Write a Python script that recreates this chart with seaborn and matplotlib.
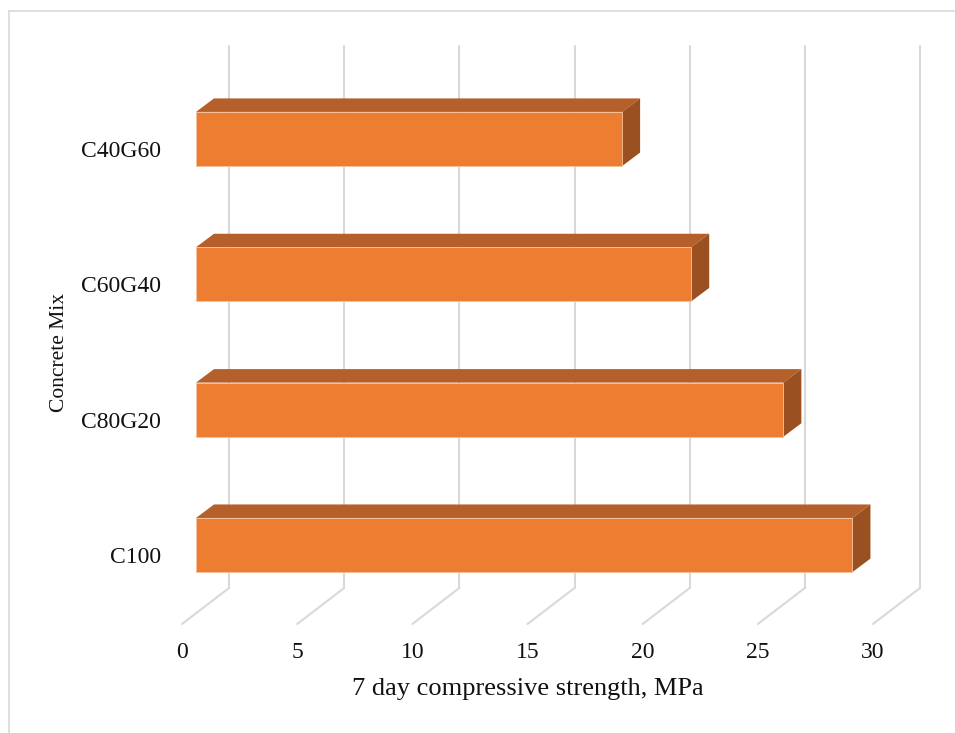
import matplotlib
matplotlib.use("Agg")
import matplotlib.pyplot as plt
from matplotlib.lines import Line2D
from matplotlib.patches import Polygon
import seaborn as sns
import pandas as pd

# Compressive strength after 7 days for each concrete mix
mixes = ["C40G60", "C60G40", "C80G20", "C100"]
strength = [18.5, 21.5, 25.5, 28.5]
x_ticks = [0, 5, 10, 15, 20, 25, 30]

x_title = "7 day compressive strength, MPa"
y_title = "Concrete Mix"

FRONT = "#ED7D31"
TOP = "#B5602A"
SIDE = "#9A5020"
GRID = "#D9D9D9"

sns.set_style("white")
plt.rcParams["font.family"] = ["Liberation Serif", "DejaVu Serif"]

df = pd.DataFrame({"mix": mixes, "strength": strength})

fig = plt.figure(figsize=(9.55, 7.33), dpi=100)
ax = fig.add_axes([196 / 955, (733 - 612.7) / 733, 691 / 955, 541.4 / 733])

sns.barplot(data=df, x="strength", y="mix", order=mixes, orient="h",
            width=0.4, color=FRONT, saturation=1, edgecolor="#F6C09A",
            linewidth=0.6, ax=ax, zorder=3)

ax.set_xlim(0, 30)
ax.set_ylim(3.5, -0.5)
for s in ax.spines.values():
    s.set_visible(False)
ax.set_xticks([])
ax.set_yticks([])
ax.set_xlabel("")
ax.set_ylabel("")


def shifted(x, y, dx_px, dy_px):
    """Data point moved by a pixel offset (dy positive = upwards)."""
    px, py = ax.transData.transform((x, y))
    return tuple(ax.transData.inverted().transform((px + dx_px, py + dy_px)))


# depth of the 3-D box behind the bar plane
BACK_DX, BACK_DY_FLOOR, BACK_DY_TOP = 33, 24.7, 25.3
FRONT_DX, FRONT_DY = -14, -11.3
y_floor, y_roof = 3.5, -0.5

# back wall gridlines and floor diagonals
for v in x_ticks:
    b0 = shifted(v, y_floor, BACK_DX, BACK_DY_FLOOR)
    b1 = shifted(v, y_roof, BACK_DX, BACK_DY_TOP)
    f0 = shifted(v, y_floor, FRONT_DX, FRONT_DY)
    ax.add_line(Line2D([b0[0], b1[0]], [b0[1], b1[1]], color=GRID, lw=1.5,
                       clip_on=False, zorder=1))
    ax.add_line(Line2D([b0[0], f0[0]], [b0[1], f0[1]], color=GRID, lw=1.5,
                       clip_on=False, zorder=1))
    lx, ly = shifted(v, y_floor, FRONT_DX, -45.3)
    ax.text(lx, ly, str(v), ha="center", va="baseline", fontsize=17,
            color="#111111", clip_on=False)

# top and side faces of each bar
DX, DY = 18, 13.5
for p in ax.patches:
    x0, y0 = p.get_x(), p.get_y()
    x1, y1 = x0 + p.get_width(), y0 + p.get_height()
    # y0 is the upper edge (inverted axis)
    top = [(x0, y0), (x1, y0), shifted(x1, y0, DX, DY), shifted(x0, y0, DX, DY)]
    side = [(x1, y0), shifted(x1, y0, DX, DY), shifted(x1, y1, DX, DY), (x1, y1)]
    ax.add_patch(Polygon(top, closed=True, facecolor=TOP, edgecolor="none",
                         clip_on=False, zorder=2.5))
    ax.add_patch(Polygon(side, closed=True, facecolor=SIDE, edgecolor="none",
                         clip_on=False, zorder=2.5))

# category labels
for i, m in enumerate(mixes):
    lx, ly = shifted(0, i, -35, -18)
    ax.text(lx, ly, m, ha="right", va="baseline", fontsize=17,
            color="#111111", clip_on=False)

# axis titles
tx, ty = shifted(15, y_floor, FRONT_DX, -82.3)
ax.text(tx, ty, x_title, ha="center", va="baseline", fontsize=19,
        color="#111111", clip_on=False)
ax.text(60 / 955, 1 - 352 / 733, y_title, transform=fig.transFigure,
        rotation=90, ha="center", va="center", fontsize=15.5, color="#111111")

# light frame around the chart area
fig.add_artist(Line2D([9 / 955, 9 / 955], [0, 1 - 10.5 / 733], color=GRID,
                      lw=1.2, transform=fig.transFigure))
fig.add_artist(Line2D([9 / 955, 1], [1 - 10.5 / 733, 1 - 10.5 / 733],
                      color=GRID, lw=1.2, transform=fig.transFigure))

fig.savefig("out.png", dpi=100, facecolor="white")
